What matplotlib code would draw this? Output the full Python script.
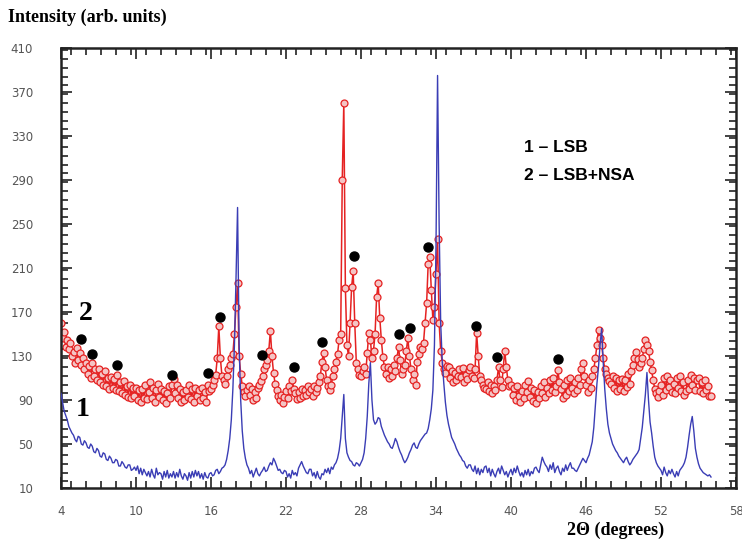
import numpy as np
import matplotlib
matplotlib.use("Agg")
import matplotlib.pyplot as plt
from matplotlib.ticker import MultipleLocator

# ---- data, one row per degree of 2-theta ----
two_theta = np.arange(4.0, 56.001, 0.125)

lsb = [
    96, 88, 80, 76, 72, 66, 63, 60,          # 4
    58, 54, 52, 57, 56, 50, 49, 53,          # 5
    51, 47, 46, 50, 48, 43, 42, 46,          # 6
    44, 39, 38, 42, 41, 36, 35, 39,          # 7
    37, 33, 33, 36, 35, 30, 30, 34,          # 8
    32, 29, 28, 31, 31, 26, 27, 29,          # 9
    26, 30, 23, 28, 22, 27, 24, 21,          # 10
    25, 20, 27, 22, 19, 28, 22, 24,          # 11
    23, 18, 25, 20, 26, 19, 23, 20,          # 12
    25, 19, 24, 20, 27, 21, 18, 23,          # 13
    21, 17, 24, 19, 25, 20, 26, 21,          # 14
    25, 19, 23, 18, 24, 20, 19, 23,          # 15
    24, 21, 22, 26, 27, 23, 25, 28,          # 16
    29, 31, 36, 44, 55, 72, 100, 140,        # 17
    200, 265, 140, 90, 62, 46, 37, 31,       # 18
    28, 23, 26, 20, 24, 28, 23, 21,          # 19
    24, 26, 29, 25, 26, 30, 33, 31,          # 20
    37, 34, 30, 26, 27, 24, 23, 26,          # 21
    25, 20, 23, 19, 26, 22, 24, 21,          # 22
    28, 31, 34, 30, 27, 24, 23, 27,          # 23
    27, 21, 24, 19, 25, 20, 18, 23,          # 24
    22, 27, 24, 28, 23, 29, 27, 31,          # 25
    33, 37, 44, 55, 75, 95, 55, 42,          # 26
    38, 35, 34, 31, 30, 33, 32, 30,          # 27
    33, 36, 42, 55, 75, 105, 124, 90,        # 28
    72, 68, 70, 74, 73, 66, 62, 58,          # 29
    55, 52, 50, 47, 46, 50, 55, 52,          # 30
    47, 43, 40, 36, 33, 35, 38, 42,          # 31
    45, 49, 51, 47, 46, 50, 53, 55,          # 32
    57, 59, 60, 64, 72, 82, 99, 140,         # 33
    230, 385, 250, 160, 125, 105, 88, 76,    # 34
    68, 62, 56, 53, 50, 46, 43, 40,          # 35
    38, 35, 34, 30, 28, 31, 31, 27,          # 36
    25, 30, 23, 28, 22, 27, 24, 29,          # 37
    30, 24, 28, 21, 27, 23, 20, 25,          # 38
    28, 23, 30, 26, 22, 25, 20, 24,          # 39
    27, 22, 28, 24, 30, 25, 21, 24,          # 40
    20, 26, 22, 27, 21, 25, 23, 28,          # 41
    29, 26, 24, 31, 38, 34, 31, 29,          # 42
    25, 31, 27, 33, 24, 28, 30, 25,          # 43
    22, 28, 25, 31, 26, 30, 33, 28,          # 44
    28, 26, 25, 28, 31, 34, 37, 35,          # 45
    33, 37, 40, 46, 52, 65, 85, 105,         # 46
    120, 140, 155, 125, 100, 82, 68, 60,     # 47
    55, 50, 47, 44, 42, 39, 37, 35,          # 48
    33, 36, 38, 34, 31, 33, 36, 38,          # 49
    40, 42, 45, 55, 65, 80, 95, 115,         # 50
    90, 70, 60, 48, 38, 33, 30, 28,          # 51
    26, 22, 29, 24, 21, 26, 23, 27,          # 52
    23, 20, 25, 21, 26, 28, 30, 33,          # 53
    38, 47, 58, 68, 75, 62, 46, 38,          # 54
    32, 28, 26, 24, 23, 22, 21, 22,          # 55
    20,                                      # 56
]

lsb_nsa = [
    160, 146, 152, 138, 145, 136, 142, 130,  # 4
    134, 124, 137, 126, 133, 122, 128, 118,  # 5
    124, 114, 121, 110, 124, 112, 118, 108,  # 6
    118, 106, 114, 104, 116, 103, 110, 100,  # 7
    111, 101, 109, 99, 113, 98, 106, 96,     # 8
    107, 95, 103, 93, 104, 92, 101, 94,      # 9
    101, 90, 99, 88, 100, 92, 104, 91,       # 10
    97, 106, 92, 101, 88, 99, 105, 93,       # 11
    100, 90, 98, 87, 96, 103, 92, 104,       # 12
    109, 96, 104, 92, 100, 88, 97, 90,       # 13
    99, 93, 104, 91, 100, 88, 101, 94,       # 14
    99, 90, 101, 92, 97, 88, 104, 98,        # 15
    100, 104, 108, 113, 128, 157, 128, 112,  # 16
    108, 105, 112, 118, 122, 128, 132, 150,  # 17
    175, 196, 130, 114, 103, 97, 94, 99,     # 18
    103, 95, 100, 90, 97, 92, 101, 104,      # 19
    107, 112, 118, 122, 126, 135, 153, 130,  # 20
    115, 105, 99, 94, 90, 95, 87, 93,        # 21
    98, 92, 103, 98, 108, 100, 96, 91,       # 22
    97, 92, 100, 94, 99, 95, 103, 97,        # 23
    100, 94, 103, 97, 101, 106, 112, 125,    # 24
    133, 120, 108, 103, 99, 104, 112, 118,   # 25
    125, 132, 145, 150, 290, 360, 192, 140,  # 26
    130, 160, 193, 207, 160, 124, 118, 113,  # 27
    112, 116, 120, 114, 133, 151, 145, 128,  # 28
    135, 150, 184, 196, 165, 145, 129, 120,  # 29
    114, 120, 110, 118, 112, 122, 116, 128,  # 30
    138, 126, 114, 118, 122, 135, 146, 130,  # 31
    118, 108, 114, 104, 125, 132, 138, 136,  # 32
    142, 160, 178, 214, 220, 190, 163, 175,  # 33
    205, 236, 160, 135, 124, 118, 115, 121,  # 34
    120, 110, 116, 106, 115, 108, 112, 118,  # 35
    111, 119, 106, 113, 109, 117, 120, 112,  # 36
    110, 118, 151, 130, 112, 108, 104, 101,  # 37
    100, 106, 98, 104, 96, 103, 99, 108,     # 38
    120, 108, 102, 118, 135, 120, 108, 103,  # 39
    104, 95, 101, 90, 103, 94, 88, 98,       # 40
    92, 104, 97, 107, 93, 101, 89, 99,       # 41
    87, 97, 92, 103, 96, 106, 93, 101,       # 42
    96, 108, 99, 110, 97, 103, 117, 106,     # 43
    100, 92, 104, 95, 108, 98, 110, 101,     # 44
    96, 106, 99, 110, 104, 118, 124, 112,    # 45
    104, 97, 108, 101, 112, 118, 128, 140,   # 46
    154, 146, 140, 128, 118, 114, 110, 107,  # 47
    105, 112, 101, 110, 98, 108, 100, 109,   # 48
    98, 108, 102, 114, 105, 116, 122, 128,   # 49
    134, 127, 120, 124, 128, 136, 145, 140,  # 50
    135, 125, 117, 108, 100, 96, 93, 98,     # 51
    104, 95, 110, 99, 112, 102, 108, 97,     # 52
    105, 96, 110, 101, 112, 98, 106, 95,     # 53
    98, 108, 100, 113, 104, 110, 99, 108,    # 54
    110, 98, 106, 96, 108, 99, 103, 94,      # 55
    94,                                      # 56
]

dot_x = [5.6, 6.48, 8.48, 12.88, 15.76, 16.72, 20.08, 22.64, 24.88, 27.44,
         31.04, 31.92, 33.36, 37.2, 38.88, 43.76]
dot_y = [145.5, 131.8, 121.8, 112.7, 114.5, 165.5, 130.9, 120, 142.7, 220.9,
         150, 155.5, 229, 157.3, 129.1, 127.3]

x_ticks = [4, 10, 16, 22, 28, 34, 40, 46, 52, 58]
y_ticks = [10, 50, 90, 130, 170, 210, 250, 290, 330, 370, 410]
legend_lines = ["1 \u2013 LSB", "2 \u2013 LSB+NSA"]

# ---- figure ----
W, H = 742, 545
fig = plt.figure(figsize=(W / 100, H / 100), dpi=100)
ax = fig.add_axes([61 / W, 1 - 488 / H, (736 - 61) / W, (488 - 48) / H])

ax.plot(two_theta, lsb, color="#3a3db5", lw=1.0, zorder=3)
ax.plot(two_theta, lsb_nsa, color="#e52222", lw=1.1, marker="o", ms=5,
        mfc="#f4c4c4", mec="#e52222", mew=0.9, zorder=2)
ax.plot(dot_x, dot_y, "o", color="black", ms=6.5, zorder=4)

ax.set_xlim(4, 58)
ax.set_ylim(10, 410)
ax.set_xticks(x_ticks)
ax.set_yticks(y_ticks)
ax.xaxis.set_minor_locator(MultipleLocator(1.2))
ax.yaxis.set_minor_locator(MultipleLocator(8))
ax.tick_params(which="both", direction="in", top=True, right=True,
               color="#222222", width=1.2)
ax.tick_params(which="major", length=8)
ax.tick_params(which="minor", length=5)
ax.tick_params(axis="y", which="major", pad=20, labelsize=8.5, labelcolor="#555555")
ax.tick_params(axis="x", which="major", pad=12, labelsize=8.5, labelcolor="#555555")
for s in ax.spines.values():
    s.set_linewidth(1.8)
    s.set_color("#222222")

# axis titles
fig.text(8 / W, 1 - 17 / H, "Intensity (arb. units)", fontsize=13,
         fontweight="bold", family="Liberation Serif", va="center", ha="left")
fig.text(616 / W, 1 - 530 / H, "2\u0398 (degrees)", fontsize=13,
         fontweight="bold", family="Liberation Serif", va="center", ha="center")

# curve labels
fig.text(86 / W, 1 - 313 / H, "2", fontsize=20, fontweight="bold",
         family="Liberation Serif", va="center", ha="center")
fig.text(83 / W, 1 - 410 / H, "1", fontsize=20, fontweight="bold",
         family="Liberation Serif", va="center", ha="center")

# legend text
fig.text(524 / W, 1 - 148 / H, legend_lines[0], fontsize=12.5, fontweight="bold",
         family="Liberation Sans", va="center", ha="left")
fig.text(524 / W, 1 - 175 / H, legend_lines[1], fontsize=12.5, fontweight="bold",
         family="Liberation Sans", va="center", ha="left")

fig.savefig("out.png", dpi=100)
